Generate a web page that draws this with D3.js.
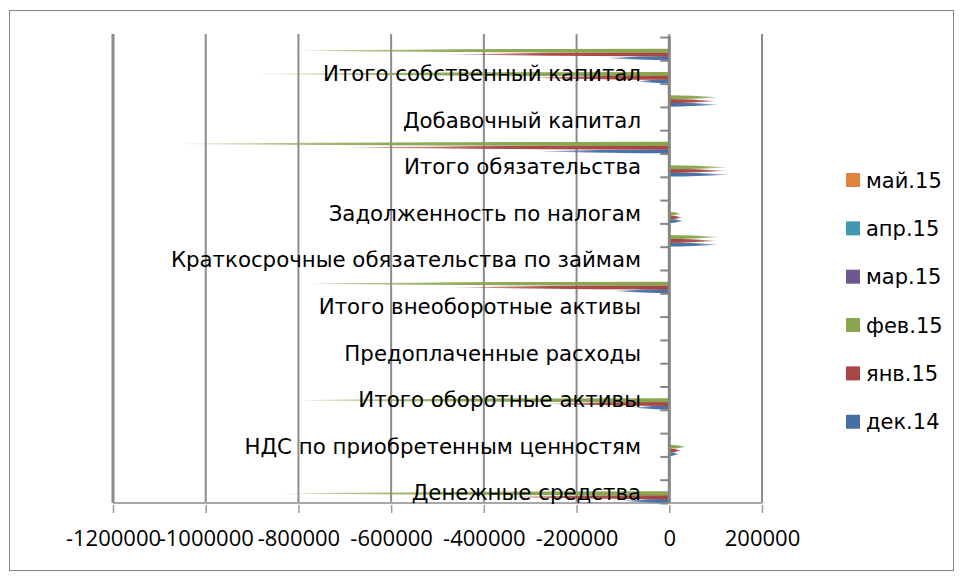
<!DOCTYPE html>
<html>
<head>
<meta charset="utf-8">
<script src="https://cdn.jsdelivr.net/npm/d3@7"></script>
<style>
  body { margin: 0; background: #fff; }
  svg text { fill: #000; }
</style>
</head>
<body>
<div id="chart"></div>
<script>
// categories from bottom to top; hidden (skipped) labels are null
var categories = [
  "Денежные средства", null,
  "НДС по приобретенным ценностям", null,
  "Итого оборотные активы", null,
  "Предоплаченные расходы", null,
  "Итого внеоборотные активы", null,
  "Краткосрочные обязательства по займам", null,
  "Задолженность по налогам", null,
  "Итого обязательства", null,
  "Добавочный капитал", null,
  "Итого собственный капитал", null
];

var seriesNames = ["дек.14", "янв.15", "фев.15", "мар.15", "апр.15", "май.15"];
var seriesColors = ["#4470a6", "#a94543", "#89a54e", "#6f5592", "#3f9ab1", "#e0843e"];

var dec14 = [-100000, 0, 20000, 0, -76000, 0, 0, 0, 0, -120000, 0, 105000, 30000, 0, 128000, -280000, 0, 105000, -70000, -135000];
var jan15 = [-350000, 0, 26000, 0, -265000, 0, 0, 0, 0, -470000, 0, 100000, 28000, 0, 122000, -700000, 0, 100000, -300000, -485000];
var feb15 = [-835000, 0, 37000, 0, -805000, 0, 0, 0, 0, -780000, 0, 108000, 25000, 0, 125000, -1060000, 0, 108000, -900000, -810000];
var mar15 = [0, 0, 0, 0, 0, 0, 0, 0, 0, 0, 0, 0, 0, 0, 0, 0, 0, 0, 0, 0];
var apr15 = [0, 0, 0, 0, 0, 0, 0, 0, 0, 0, 0, 0, 0, 0, 0, 0, 0, 0, 0, 0];
var may15 = [0, 0, 0, 0, 0, 0, 0, 0, 0, 0, 0, 0, 0, 0, 0, 0, 0, 0, 0, 0];

var xTicks = [-1200000, -1000000, -800000, -600000, -400000, -200000, 0, 200000];

var seriesValues = [dec14, jan15, feb15, mar15, apr15, may15];

var width = 963, height = 580;
var plot = {left: 113, right: 762, top: 37, bottom: 503};

var svg = d3.select("#chart").append("svg")
  .attr("width", width)
  .attr("height", height);

// chart border
svg.append("rect")
  .attr("x", 9.5).attr("y", 10.5)
  .attr("width", 944).attr("height", 560)
  .attr("fill", "#fff")
  .attr("stroke", "#868686")
  .attr("stroke-width", 1);

var x = d3.scaleLinear()
  .domain([-1200000, 200000])
  .range([plot.left, plot.right]);

var idx = d3.range(categories.length);
var y = d3.scaleBand()
  .domain(idx)
  .range([plot.bottom, plot.top])
  .paddingInner(0).paddingOuter(0);

// series inside a group, first series at the bottom
var ySeries = d3.scaleBand()
  .domain(d3.range(seriesNames.length))
  .range([y.bandwidth() / 2 + 11, y.bandwidth() / 2 - 11]);

// gridlines
svg.append("g").selectAll("line")
  .data(xTicks)
  .enter().append("line")
  .attr("x1", function(d) { return x(d); })
  .attr("x2", function(d) { return x(d); })
  .attr("y1", plot.top - 3)
  .attr("y2", plot.bottom)
  .attr("stroke", "#8c8c8c")
  .attr("stroke-width", function(d, i) { return i == 0 ? 3 : 2; });

// floor
svg.append("line")
  .attr("x1", plot.left).attr("x2", plot.right)
  .attr("y1", plot.bottom).attr("y2", plot.bottom)
  .attr("stroke", "#a8a8a8")
  .attr("stroke-width", 2);

// x axis ticks + labels
var xAxis = svg.append("g")
  .attr("transform", "translate(0," + (plot.bottom + 2) + ")")
  .call(d3.axisBottom(x).tickValues(xTicks).tickSize(8).tickFormat(function(d) { return String(d); }));
xAxis.select(".domain").remove();
xAxis.selectAll(".tick line").attr("stroke", "#9a9a9a").attr("stroke-width", 1.5);
xAxis.selectAll(".tick text")
  .attr("y", 41)
  .attr("dy", 0)
  .style("font-family", "'Open Sans', sans-serif")
  .style("font-size", "22px");

// gradients for the cones
var defs = svg.append("defs");
seriesColors.forEach(function(c, i) {
  ["pos", "neg"].forEach(function(dir) {
    var g = defs.append("linearGradient")
      .attr("id", "cone-" + i + "-" + dir)
      .attr("x1", dir == "pos" ? 0 : 1).attr("x2", dir == "pos" ? 1 : 0)
      .attr("y1", 0).attr("y2", 0);
    g.append("stop").attr("offset", "0%").attr("stop-color", c).attr("stop-opacity", 1);
    g.append("stop").attr("offset", "55%").attr("stop-color", c).attr("stop-opacity", 0.95);
    g.append("stop").attr("offset", "100%").attr("stop-color", c).attr("stop-opacity", 0.45);
  });
});

// cones: full width at the axis, tapering to the value
var bars = svg.append("g");
seriesValues.forEach(function(vals, s) {
  bars.append("g").selectAll("path")
    .data(vals.map(function(v, i) { return {i: i, v: v}; }).filter(function(d) { return d.v != 0; }))
    .enter().append("path")
    .attr("d", function(d) {
      var y0 = y(d.i) + ySeries(s);
      var h = ySeries.bandwidth() + 0.4;
      var x0 = x(0), x1 = x(d.v), xm = x0 + (x1 - x0) * 0.45;
      return "M" + x0 + "," + y0 +
        "Q" + xm + "," + y0 + " " + x1 + "," + (y0 + h / 2) +
        "Q" + xm + "," + (y0 + h) + " " + x0 + "," + (y0 + h) + "Z";
    })
    .attr("fill", function(d) { return "url(#cone-" + s + "-" + (d.v > 0 ? "pos" : "neg") + ")"; });
});

// vertical (category) axis at zero
svg.append("line")
  .attr("x1", x(0)).attr("x2", x(0))
  .attr("y1", plot.top - 1).attr("y2", plot.bottom)
  .attr("stroke", "#868686")
  .attr("stroke-width", 3);

var boundary = d3.scaleLinear().domain([0, categories.length]).range([plot.bottom, plot.top]);
var yAxis = svg.append("g")
  .attr("transform", "translate(" + (x(0) - 1) + ",0)")
  .call(d3.axisLeft(boundary).tickValues(d3.range(categories.length + 1)).tickSize(8).tickFormat(""));
yAxis.select(".domain").remove();
yAxis.selectAll(".tick line").attr("stroke", "#868686").attr("stroke-width", 2);

// category labels
svg.append("g").selectAll("text")
  .data(idx.filter(function(i) { return categories[i] != null; }))
  .enter().append("text")
  .attr("x", 641)
  .attr("y", function(i) { return y(i) + y.bandwidth() / 2 + 9; })
  .attr("text-anchor", "end")
  .style("font-family", "'DejaVu Sans', sans-serif")
  .style("font-size", "21.3px")
  .text(function(i) { return categories[i]; });

// legend, last series on top
var legend = svg.append("g");
var legendItems = legend.selectAll("g")
  .data(d3.range(seriesNames.length).reverse())
  .enter().append("g")
  .attr("transform", function(s, k) { return "translate(846," + (180 + k * 48.35) + ")"; });
legendItems.append("rect")
  .attr("x", 0).attr("y", -7)
  .attr("width", 14).attr("height", 14)
  .attr("fill", function(s) { return seriesColors[s]; });
legendItems.append("text")
  .attr("x", 20).attr("y", 7.5)
  .style("font-family", "'DejaVu Sans', sans-serif")
  .style("font-size", "21px")
  .text(function(s) { return seriesNames[s]; });
</script>
</body>
</html>
